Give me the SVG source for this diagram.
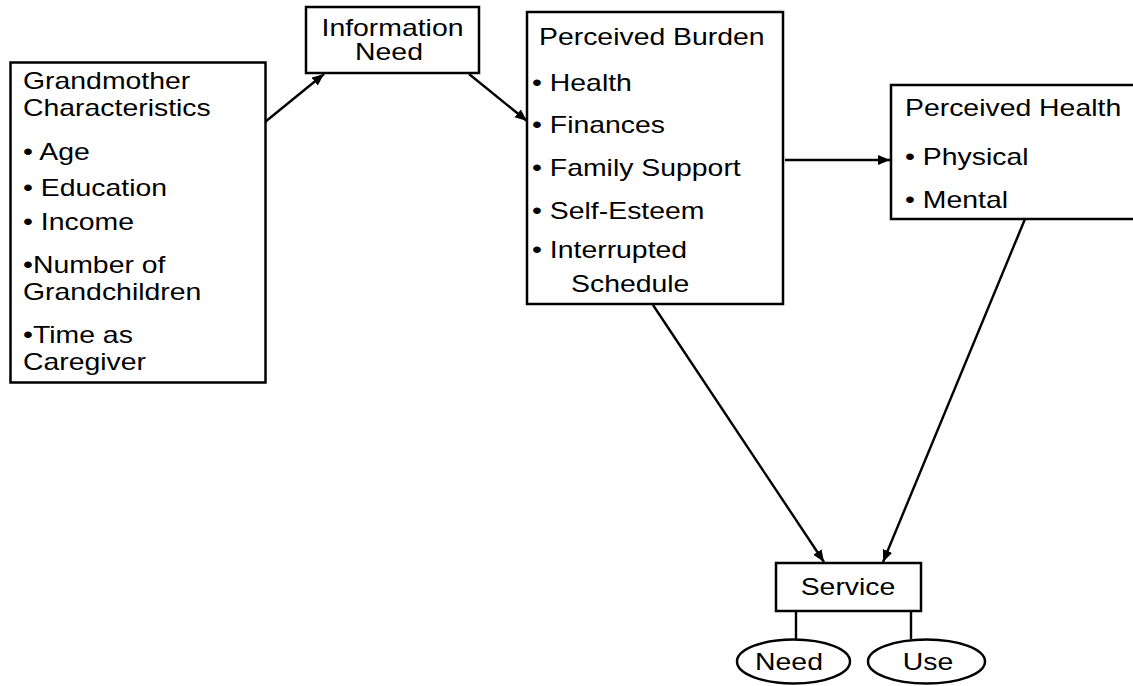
<svg xmlns="http://www.w3.org/2000/svg" width="1133" height="686" viewBox="0 0 1133 686">
<defs>
<style>
.box{fill:#fff;stroke:#000;stroke-width:2.5}
.t{font-family:"Liberation Sans",Arial,sans-serif;font-size:23px;fill:#000}
.m{text-anchor:middle}
.c{fill:none;stroke:#000;stroke-width:2.4}
</style>
<marker id="ah" markerUnits="userSpaceOnUse" markerWidth="13" markerHeight="11" refX="12" refY="5" orient="auto">
<path d="M0,0 L12,5 L0,10 z" fill="#000"/>
</marker>
</defs>
<rect width="1133" height="686" fill="#fff"/>
<g id="connectors">
<line class="c" x1="265" y1="122" x2="324" y2="74" marker-end="url(#ah)"/>
<line class="c" x1="469" y1="74" x2="527" y2="121" marker-end="url(#ah)"/>
<line class="c" x1="785" y1="160" x2="890" y2="160" marker-end="url(#ah)"/>
<line class="c" x1="653" y1="305" x2="824" y2="562" marker-end="url(#ah)"/>
<line class="c" x1="1025" y1="219" x2="883" y2="562" marker-end="url(#ah)"/>
<line class="c" x1="796" y1="612" x2="796" y2="639"/>
<line class="c" x1="911" y1="612" x2="911" y2="639"/>
</g>
<g id="grandmother">
<rect class="box" x="10.5" y="62.5" width="255" height="320"/>
<text class="t" transform="translate(23 89) scale(1.235 1)">Grandmother</text>
<text class="t" transform="translate(23 116) scale(1.235 1)">Characteristics</text>
<text class="t" transform="translate(23 160) scale(1.235 1)">• Age</text>
<text class="t" transform="translate(23 196) scale(1.235 1)">• Education</text>
<text class="t" transform="translate(23 230) scale(1.235 1)">• Income</text>
<text class="t" transform="translate(23 273) scale(1.235 1)">•Number of</text>
<text class="t" transform="translate(23 300) scale(1.235 1)">Grandchildren</text>
<text class="t" transform="translate(23 343) scale(1.235 1)">•Time as</text>
<text class="t" transform="translate(23 370) scale(1.235 1)">Caregiver</text>
</g>
<g id="information-need">
<rect class="box" x="306" y="7" width="173" height="66"/>
<text class="t m" transform="translate(392.5 36) scale(1.235 1)">Information</text>
<text class="t m" transform="translate(389 60) scale(1.235 1)">Need</text>
</g>
<g id="perceived-burden">
<rect class="box" x="527" y="12" width="256" height="292"/>
<text class="t" transform="translate(539 45) scale(1.235 1)">Perceived Burden</text>
<text class="t" transform="translate(532 91) scale(1.235 1)">• Health</text>
<text class="t" transform="translate(532 133) scale(1.235 1)">• Finances</text>
<text class="t" transform="translate(532 176) scale(1.235 1)">• Family Support</text>
<text class="t" transform="translate(532 219) scale(1.235 1)">• Self-Esteem</text>
<text class="t" transform="translate(532 258) scale(1.235 1)">• Interrupted</text>
<text class="t" transform="translate(571 292) scale(1.235 1)">Schedule</text>
</g>
<g id="perceived-health">
<rect class="box" x="891" y="85" width="250" height="134"/>
<text class="t" transform="translate(905 116) scale(1.235 1)">Perceived Health</text>
<text class="t" transform="translate(905 165) scale(1.235 1)">• Physical</text>
<text class="t" transform="translate(905 208) scale(1.235 1)">• Mental</text>
</g>
<g id="service">
<rect class="box" x="776" y="563" width="145" height="48"/>
<text class="t m" transform="translate(848 595) scale(1.235 1)">Service</text>
</g>
<g id="need">
<ellipse class="box" cx="793.5" cy="661.5" rx="56.5" ry="22"/>
<text class="t m" transform="translate(789 670) scale(1.235 1)">Need</text>
</g>
<g id="use">
<ellipse class="box" cx="926.5" cy="661.5" rx="58.5" ry="22"/>
<text class="t m" transform="translate(928 670) scale(1.235 1)">Use</text>
</g>
</svg>
